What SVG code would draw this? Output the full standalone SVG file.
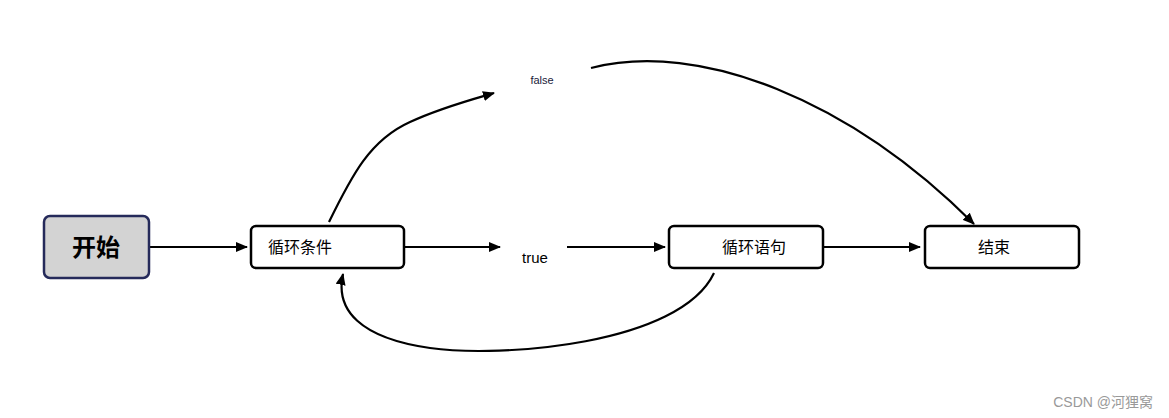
<svg xmlns="http://www.w3.org/2000/svg" width="1169" height="418" viewBox="0 0 1169 418">
<style>
.box{fill:#fff;stroke:#000;stroke-width:2.5}
.edge{fill:none;stroke:#000;stroke-width:2.2}
.t{font-family:"Liberation Sans","Noto Sans CJK SC",sans-serif;font-size:16px;fill:#000}
</style>
<defs>
<marker id="ah" markerUnits="userSpaceOnUse" markerWidth="12" markerHeight="10" refX="11" refY="5" orient="auto">
<path d="M0,0 L12,5 L0,10 Z" fill="#000"/>
</marker>
</defs>
<rect width="1169" height="418" fill="#fff"/>
<g id="connectors">
<line class="edge" x1="149" y1="247" x2="247" y2="247" marker-end="url(#ah)"/>
<line class="edge" x1="404" y1="247" x2="500" y2="247" marker-end="url(#ah)"/>
<line class="edge" x1="567" y1="247" x2="665" y2="247" marker-end="url(#ah)"/>
<line class="edge" x1="823" y1="247" x2="920" y2="247" marker-end="url(#ah)"/>
<path class="edge" d="M329,222 C352,175 370,140 410,122 C440,108 470,100 494,93" marker-end="url(#ah)"/>
<path class="edge" d="M591,68 C700,40 850,100 974,224" marker-end="url(#ah)"/>
<path class="edge" d="M714,273 C680,345 500,358 430,348 C360,338 335,310 343,274" marker-end="url(#ah)"/>
</g>
<g id="start">
<rect x="44" y="216" width="105" height="62" rx="6" fill="#d3d3d3" stroke="#252a5a" stroke-width="2.5"/>
<text x="96" y="256" text-anchor="middle" font-family="'Noto Sans CJK SC',sans-serif" font-size="24" font-weight="bold" fill="#000">开始</text>
</g>
<g id="cond">
<rect class="box" x="251" y="226" width="153" height="42" rx="5"/>
<text class="t" x="268" y="253">循环条件</text>
</g>
<g id="true">
<text x="535" y="263" text-anchor="middle" font-family="'Liberation Sans',sans-serif" font-size="15" fill="#000">true</text>
</g>
<g id="false">
<text x="542" y="84" text-anchor="middle" font-family="'Liberation Sans',sans-serif" font-size="11" fill="#1a1a3a">false</text>
</g>
<g id="body">
<rect class="box" x="669" y="226" width="154" height="42" rx="5"/>
<text class="t" x="754" y="253" text-anchor="middle">循环语句</text>
</g>
<g id="end">
<rect class="box" x="925" y="226" width="154" height="42" rx="5"/>
<text class="t" x="994" y="253" text-anchor="middle">结束</text>
</g>
<text x="1153" y="407" text-anchor="end" font-family="'Liberation Sans','Noto Sans CJK SC',sans-serif" font-size="14" fill="#999">CSDN @河狸窝</text>
</svg>
